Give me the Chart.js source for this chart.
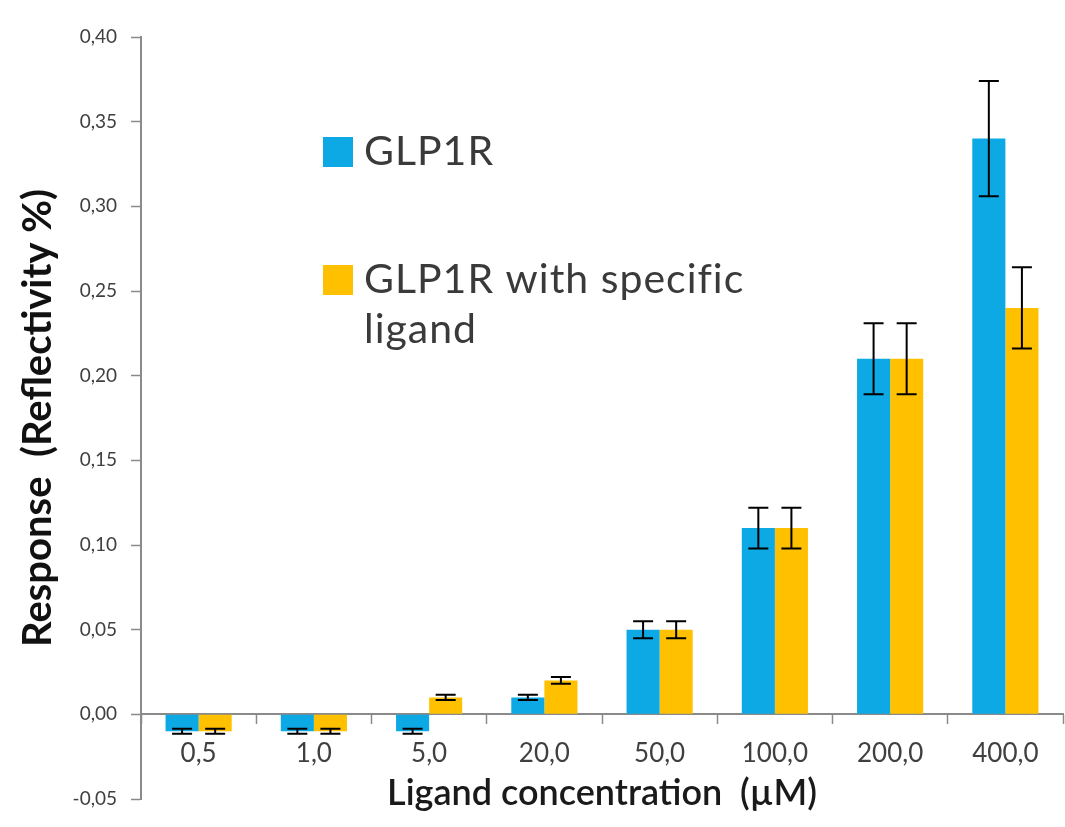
<!DOCTYPE html>
<html>
<head>
<meta charset="utf-8">
<script src="https://cdn.jsdelivr.net/npm/chart.js@4.4.1/dist/chart.umd.min.js"></script>
<style>
  html, body { margin: 0; padding: 0; background: #fff; }
  #wrap { width: 1065px; height: 827px; }
</style>
</head>
<body>
<div id="wrap"><canvas id="chart"></canvas></div>
<script>
const categories = ['0,5', '1,0', '5,0', '20,0', '50,0', '100,0', '200,0', '400,0'];
const glp1r = [-0.01, -0.01, -0.01, 0.01, 0.05, 0.11, 0.21, 0.34];
const glp1rErr = [0.0015, 0.0015, 0.0015, 0.0015, 0.005, 0.012, 0.021, 0.034];
const withLigand = [-0.01, -0.01, 0.01, 0.02, 0.05, 0.11, 0.21, 0.24];
const withLigandErr = [0.0015, 0.0015, 0.0015, 0.002, 0.005, 0.012, 0.021, 0.024];
const seriesNames = ['GLP1R', 'GLP1R with specific ligand'];
const seriesColors = ['#0DA9E4', '#FFC000'];
const yTicks = [-0.05, 0, 0.05, 0.10, 0.15, 0.20, 0.25, 0.30, 0.35, 0.40];

const FONT = 'Lato, "Open Sans", sans-serif';
const AXIS_GREY = '#8a8a8a';

// error bars, drawn over the bars from each dataset's errors
const errorBars = {
    id: 'errorBars',
    afterDatasetsDraw: chart => {
        const ctx = chart.ctx;
        const yAxis = chart.scales.y;
        ctx.save();
        ctx.strokeStyle = '#000';
        ctx.lineWidth = 2;
        chart.data.datasets.forEach((ds, i) => {
            const meta = chart.getDatasetMeta(i);
            meta.data.forEach((bar, j) => {
                const v = ds.data[j];
                const e = ds.errors[j];
                const yTop = yAxis.getPixelForValue(v + e);
                const yBot = yAxis.getPixelForValue(v - e);
                const x = bar.x;
                ctx.beginPath();
                ctx.moveTo(x, yTop); ctx.lineTo(x, yBot);
                ctx.moveTo(x - 10, yTop); ctx.lineTo(x + 10, yTop);
                ctx.moveTo(x - 10, yBot); ctx.lineTo(x + 10, yBot);
                ctx.stroke();
            });
        });
        ctx.restore();
    }
};

// legend inside the plot, with the long label wrapped
const innerLegend = {
    id: 'innerLegend',
    afterDraw: chart => {
        const ctx = chart.ctx;
        const rows = [165, 293];
        ctx.save();
        ctx.font = '41px ' + FONT;
        ctx.letterSpacing = '1px';
        ctx.textBaseline = 'alphabetic';
        chart.data.datasets.forEach((ds, i) => {
            const base = rows[i];
            ctx.fillStyle = ds.backgroundColor;
            ctx.fillRect(323, base - 28, 30, 30);
            ctx.fillStyle = '#3a3a3a';
            // wrap words at 420px
            const words = ds.label.split(' ');
            let line = '';
            let y = base;
            words.forEach(w => {
                const test = line ? line + ' ' + w : w;
                if (ctx.measureText(test).width > 420 && line) {
                    ctx.fillText(line, 364, y);
                    line = w;
                    y += 50;
                } else {
                    line = test;
                }
            });
            ctx.fillText(line, 364, y);
        });
        ctx.restore();
    }
};

new Chart(document.getElementById('chart'), {
    type: 'bar',
    data: {
        labels: categories,
        datasets: [
            { label: seriesNames[0], data: glp1r, errors: glp1rErr, backgroundColor: seriesColors[0] },
            { label: seriesNames[1], data: withLigand, errors: withLigandErr, backgroundColor: seriesColors[1] }
        ]
    },
    options: {
        responsive: true,
        maintainAspectRatio: false,
        animation: false,
        layout: { padding: { top: 37, right: 2, bottom: 0, left: 0 } },
        datasets: { bar: { barPercentage: 1, categoryPercentage: 0.574 } },
        plugins: {
            legend: { display: false },
            tooltip: { enabled: false }
        },
        scales: {
            x: {
                position: { y: 0 },
                grid: { drawOnChartArea: false, drawTicks: true, tickLength: 9, tickWidth: 1.5, tickColor: AXIS_GREY, offset: true },
                border: { color: AXIS_GREY, width: 2 },
                ticks: { color: '#404040', font: { family: FONT, size: 26 }, padding: 15, maxRotation: 0 }
            },
            xTitle: {
                type: 'category',
                position: 'bottom',
                labels: categories,
                grid: { display: false },
                border: { display: false },
                ticks: { display: false },
                title: {
                    display: true,
                    text: 'Ligand concentration  (µM)',
                    color: '#1a1a1a',
                    font: { family: FONT, size: 36, weight: '600' },
                    padding: { top: 0, bottom: 12 }
                },
                afterFit: scale => { scale.height = 28; }
            },
            y: {
                min: -0.05,
                max: 0.40,
                afterBuildTicks: scale => { scale.ticks = yTicks.map(v => ({ value: v })); },
                grid: { drawOnChartArea: false, drawTicks: true, tickLength: 10, tickWidth: 1.5, tickColor: AXIS_GREY },
                border: { color: AXIS_GREY, width: 2 },
                ticks: {
                    color: '#404040',
                    font: { family: FONT, size: 19 },
                    padding: 14,
                    callback: v => v.toFixed(2).replace('.', ',')
                },
                title: {
                    display: true,
                    text: 'Response  (Reflectivity %)',
                    color: '#111',
                    font: { family: FONT, size: 40, weight: 'bold' },
                    padding: { top: 14, bottom: 0 }
                },
                afterFit: scale => { scale.width = 141; }
            }
        }
    },
    plugins: [errorBars, innerLegend]
});
</script>
</body>
</html>
